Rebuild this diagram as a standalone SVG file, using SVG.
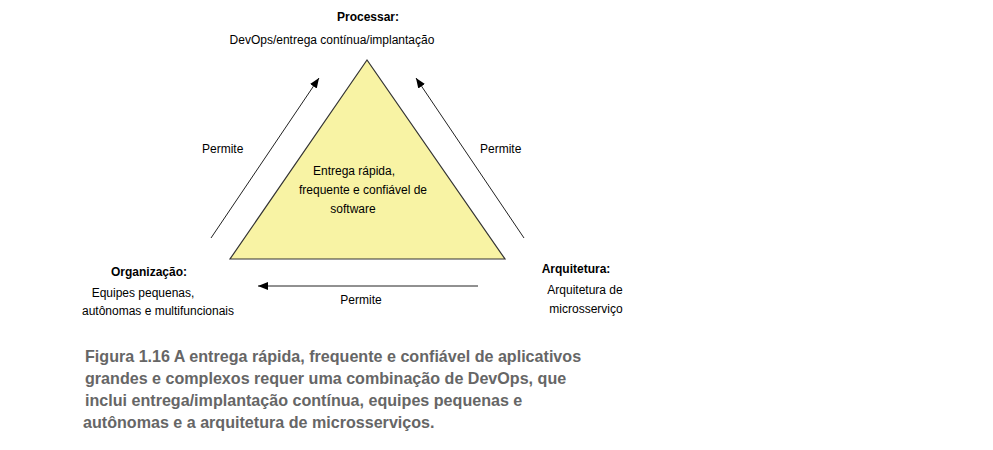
<svg xmlns="http://www.w3.org/2000/svg" width="993" height="450" viewBox="0 0 993 450">
<defs>
<style>
text{font-family:"Liberation Sans",Arial,sans-serif;font-size:12px;fill:#000}
.b{font-weight:bold}
.c{text-anchor:middle}
.cap{font-weight:bold;font-size:16.1px;fill:#666}
.ln{stroke:#222;stroke-width:1;fill:none}
</style>
<marker id="ah" viewBox="0 0 10 10" refX="10" refY="5" markerWidth="10" markerHeight="10" markerUnits="userSpaceOnUse" orient="auto">
<path d="M0,1 L10,5 L0,9 Z" fill="#000"/>
</marker>
</defs>
<rect width="993" height="450" fill="#fff"/>
<g id="triangle">
<polygon points="367,60 230,259 505,259" fill="#f8f3a4" stroke="#333" stroke-width="1.2"/>
<text class="c" x="354" y="175">Entrega rápida,</text>
<text class="c" x="363" y="194">frequente e confiável de</text>
<text class="c" x="353" y="213">software</text>
</g>
<g id="processar">
<text class="b c" x="368" y="21">Processar:</text>
<text class="c" x="332" y="44">DevOps/entrega contínua/implantação</text>
</g>
<g id="organizacao">
<text class="b c" x="149" y="276">Organização:</text>
<text class="c" x="143" y="297">Equipes pequenas,</text>
<text class="c" x="158" y="315">autônomas e multifuncionais</text>
</g>
<g id="arquitetura">
<text class="b c" x="576" y="273">Arquitetura:</text>
<text class="c" x="585" y="294">Arquitetura de</text>
<text class="c" x="586" y="313">microsserviço</text>
</g>
<g id="connectors">
<line class="ln" x1="211" y1="238" x2="319" y2="78" marker-end="url(#ah)"/>
<line class="ln" x1="524" y1="238" x2="416" y2="78" marker-end="url(#ah)"/>
<line class="ln" x1="478" y1="286" x2="258" y2="286" marker-end="url(#ah)"/>
<text x="202" y="153">Permite</text>
<text x="480" y="153">Permite</text>
<text class="c" x="361" y="304">Permite</text>
</g>
<g id="caption">
<text class="cap" x="85" y="362">Figura 1.16 A entrega rápida, frequente e confiável de aplicativos</text>
<text class="cap" x="85" y="384">grandes e complexos requer uma combinação de DevOps, que</text>
<text class="cap" x="85" y="406">inclui entrega/implantação contínua, equipes pequenas e</text>
<text class="cap" x="83" y="428">autônomas e a arquitetura de microsserviços.</text>
</g>
</svg>
